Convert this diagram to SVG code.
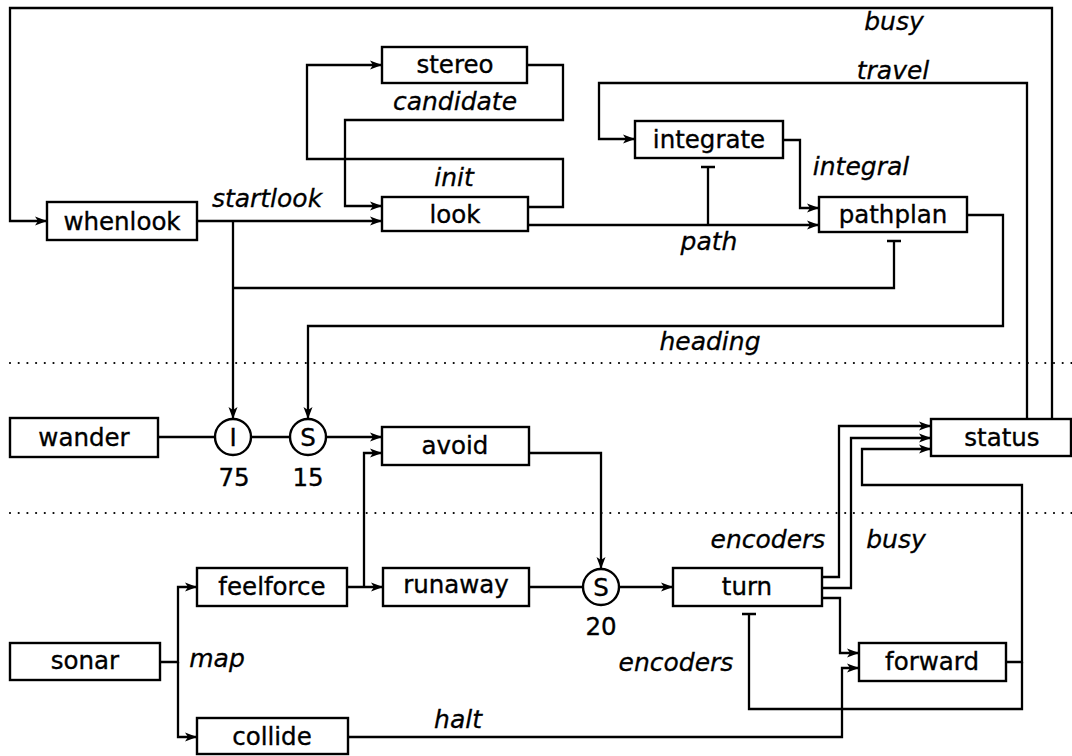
<svg xmlns="http://www.w3.org/2000/svg" width="1072" height="756" viewBox="0 0 1072 756">
<style>
.box{fill:#fff;stroke:#000;stroke-width:2.4}
.nt{font-family:"DejaVu Sans",sans-serif;font-size:24.5px;text-anchor:middle;fill:#000;stroke:#000;stroke-width:0.35}
.lb{font-family:"DejaVu Sans",sans-serif;font-size:25px;font-style:italic;text-anchor:middle;fill:#000;stroke:#000;stroke-width:0.3}
.c{fill:none;stroke:#000;stroke-width:2.3}
.a{marker-end:url(#ah)}
.dot{stroke:#000;stroke-width:2.2;stroke-dasharray:0 8.7;stroke-linecap:round}
</style>
<defs>
<marker id="ah" markerUnits="userSpaceOnUse" markerWidth="13" markerHeight="10" refX="12" refY="5" orient="auto">
<path d="M0,0.5 L12,5 L0,9.5 L3,5 z" fill="#000"/>
</marker>
</defs>
<rect width="1072" height="756" fill="#fff"/>
<g id="separators">
<line class="dot" x1="10" y1="363" x2="1072" y2="363"/>
<line class="dot" x1="10" y1="513" x2="1072" y2="513"/>
</g>
<g id="connectors">
<path class="c a" d="M1052,419 V8 H10 V221 H47"/>
<path class="c a" d="M1027,419 V83 H599 V139 H635"/>
<path class="c a" d="M197,221 H382"/>
<path class="c a" d="M233,221 V419"/>
<path class="c" d="M233,288 H894 V241 M887,241 H901"/>
<path class="c a" d="M527,65 H563 V120 H345 V206 H382"/>
<path class="c a" d="M528,207 H563 V159 H307 V65 H382"/>
<path class="c a" d="M528,225 H819"/>
<path class="c" d="M708,225 V167 M701,167 H715"/>
<path class="c a" d="M783,140 H800 V208 H819"/>
<path class="c a" d="M967,215 H1003 V326 H308 V419"/>
<path class="c" d="M158,437 H215"/>
<path class="c" d="M251,437 H290"/>
<path class="c a" d="M326,437 H382"/>
<path class="c a" d="M347,587 H383"/>
<path class="c a" d="M364,587 V453 H382"/>
<path class="c a" d="M529,453 H601 V569"/>
<path class="c" d="M529,587 H583"/>
<path class="c a" d="M619,587 H673"/>
<path class="c a" d="M160,662 H178 V587 H197"/>
<path class="c a" d="M178,662 V737 H197"/>
<path class="c a" d="M348,737 H842 V668 H859"/>
<path class="c a" d="M822,577 H839 V426 H931"/>
<path class="c a" d="M822,588 H851 V438 H931"/>
<path class="c a" d="M822,598 H840 V653 H859"/>
<path class="c a" d="M1006,662 H1022 V485 H862 V449 H931"/>
<path class="c" d="M1022,662 V709 H749 V614 M742,614 H756"/>
</g>
<g id="labels">
<text class="lb" x="894" y="30">busy</text>
<text class="lb" x="893" y="79">travel</text>
<text class="lb" x="455" y="110">candidate</text>
<text class="lb" x="454" y="186">init</text>
<text class="lb" x="267" y="207">startlook</text>
<text class="lb" x="861" y="175">integral</text>
<text class="lb" x="709" y="250">path</text>
<text class="lb" x="710" y="350">heading</text>
<text class="lb" x="768" y="548">encoders</text>
<text class="lb" x="896" y="548">busy</text>
<text class="lb" x="676" y="671">encoders</text>
<text class="lb" x="217" y="667">map</text>
<text class="lb" x="458" y="728">halt</text>
</g>
<g id="whenlook"><rect class="box" x="47" y="202" width="150" height="38"/><text class="nt" x="122" y="230">whenlook</text></g>
<g id="stereo"><rect class="box" x="382" y="47" width="145" height="36"/><text class="nt" x="455" y="73">stereo</text></g>
<g id="look"><rect class="box" x="382" y="197" width="146" height="34"/><text class="nt" x="455" y="223">look</text></g>
<g id="integrate"><rect class="box" x="635" y="121" width="148" height="37"/><text class="nt" x="709" y="148">integrate</text></g>
<g id="pathplan"><rect class="box" x="819" y="197" width="148" height="35"/><text class="nt" x="893" y="223">pathplan</text></g>
<g id="wander"><rect class="box" x="10" y="418" width="148" height="39"/><text class="nt" x="84" y="446">wander</text></g>
<g id="inhibit75"><circle class="box" cx="233" cy="437" r="18"/><text class="nt" x="233" y="446">I</text><text class="nt" x="234" y="486">75</text></g>
<g id="suppress15"><circle class="box" cx="308" cy="437" r="18"/><text class="nt" x="308" y="446">S</text><text class="nt" x="308" y="486">15</text></g>
<g id="avoid"><rect class="box" x="382" y="427" width="147" height="38"/><text class="nt" x="455" y="454">avoid</text></g>
<g id="status"><rect class="box" x="931" y="419" width="140" height="37"/><text class="nt" x="1002" y="446">status</text></g>
<g id="feelforce"><rect class="box" x="197" y="568" width="150" height="38"/><text class="nt" x="272" y="595">feelforce</text></g>
<g id="runaway"><rect class="box" x="383" y="568" width="146" height="38"/><text class="nt" x="456" y="593">runaway</text></g>
<g id="suppress20"><circle class="box" cx="601" cy="587" r="18"/><text class="nt" x="601" y="596">S</text><text class="nt" x="601" y="635">20</text></g>
<g id="turn"><rect class="box" x="673" y="568" width="149" height="38"/><text class="nt" x="747" y="595">turn</text></g>
<g id="forward"><rect class="box" x="859" y="643" width="147" height="38"/><text class="nt" x="932" y="670">forward</text></g>
<g id="sonar"><rect class="box" x="10" y="643" width="150" height="37"/><text class="nt" x="85" y="669">sonar</text></g>
<g id="collide"><rect class="box" x="197" y="718" width="151" height="36"/><text class="nt" x="272" y="745">collide</text></g>
</svg>
